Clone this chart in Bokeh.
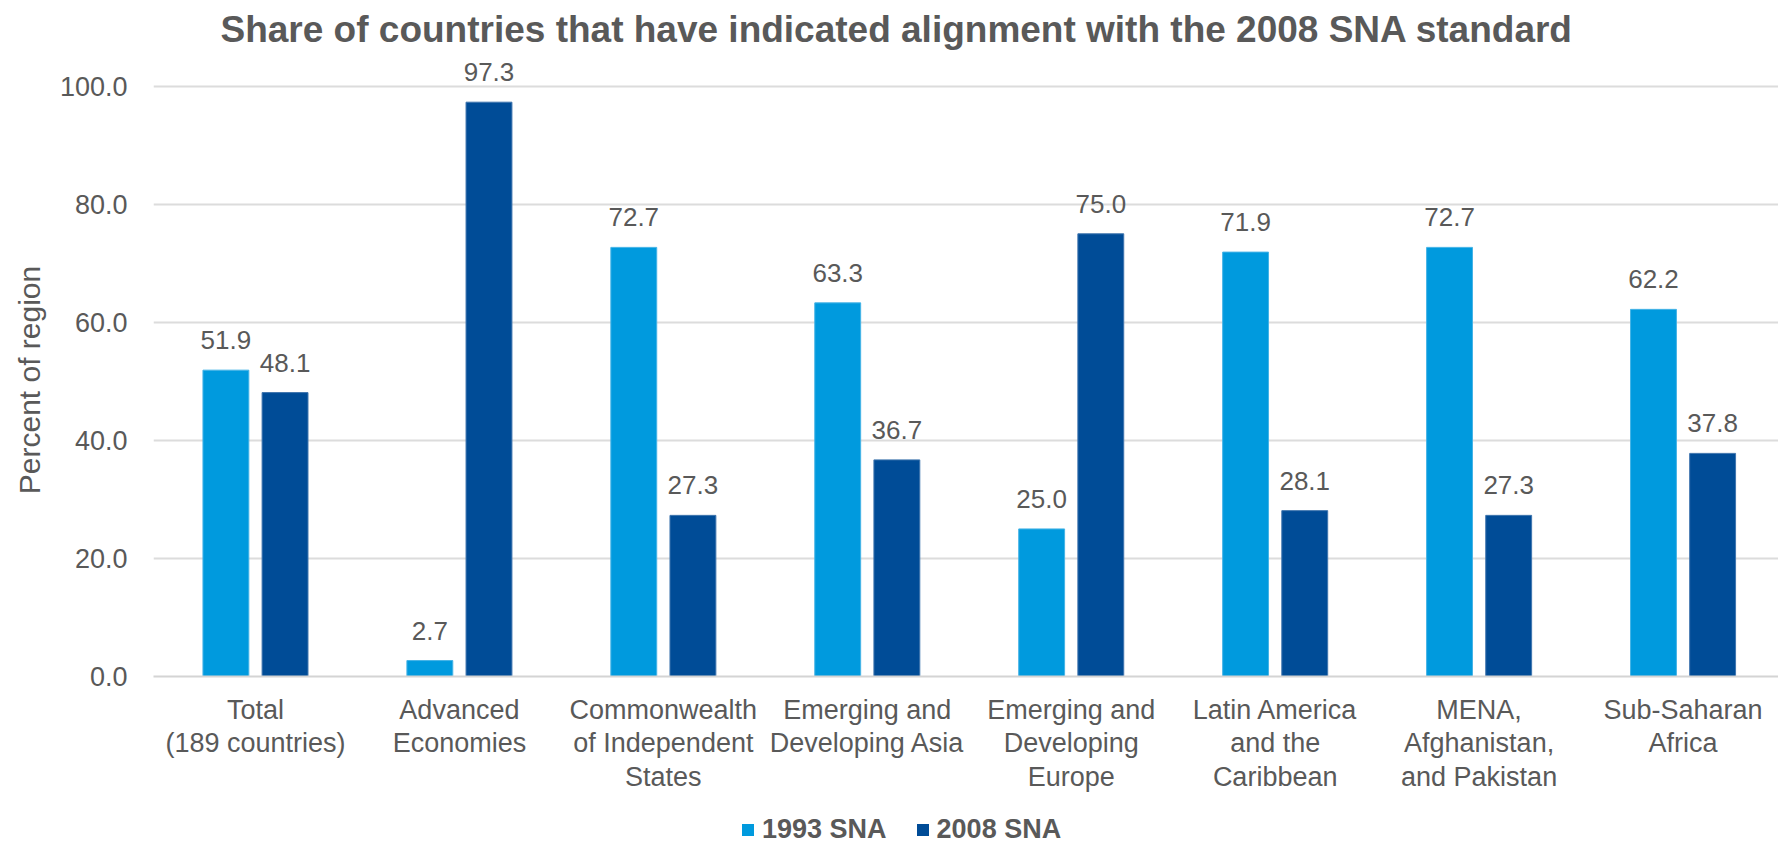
from bokeh.plotting import figure
from bokeh.layouts import column
from bokeh.models import (Range1d, FixedTicker, PrintfTickFormatter, Legend,
                          LegendItem, ColumnDataSource)
from bokeh.embed import file_html
from bokeh.resources import INLINE

# ---- data ----
categories = [
    "Total\n(189 countries)",
    "Advanced\nEconomies",
    "Commonwealth\nof Independent\nStates",
    "Emerging and\nDeveloping Asia",
    "Emerging and\nDeveloping\nEurope",
    "Latin America\nand the\nCaribbean",
    "MENA,\nAfghanistan,\nand Pakistan",
    "Sub-Saharan\nAfrica",
]
sna_1993 = [51.9, 2.7, 72.7, 63.3, 25.0, 71.9, 72.7, 62.2]
sna_2008 = [48.1, 97.3, 27.3, 36.7, 75.0, 28.1, 27.3, 37.8]
y_ticks = [0, 20, 40, 60, 80, 100]
series_names = ["1993 SNA", "2008 SNA"]

TITLE = "Share of countries that have indicated alignment with the 2008 SNA standard"
FONT = "Liberation Sans"
GRAY = "#595959"
LIGHT = "#009ADE"
DARK = "#004C97"
LIGHT_EDGE = "#45B3E6"
DARK_EDGE = "#3F75AE"

centers = [i + 0.5 for i in range(len(categories))]
off = 0.145
bw = 0.225

src1 = ColumnDataSource(dict(x=[c - off for c in centers], top=sna_1993,
                             lab=["%.1f" % v for v in sna_1993]))
src2 = ColumnDataSource(dict(x=[c + off for c in centers], top=sna_2008,
                             lab=["%.1f" % v for v in sna_2008]))

MAIN_H = 795
p = figure(width=1778, height=MAIN_H, output_backend="svg", toolbar_location=None,
           x_range=Range1d(0, 7.968), y_range=Range1d(0, 104.7),
           min_border_left=153, min_border_right=0, min_border_top=58,
           min_border_bottom=MAIN_H - 676)
p.outline_line_color = None
p.background_fill_color = "white"
p.border_fill_color = "white"

p.title.text = TITLE
p.title.text_font = FONT
p.title.text_font_size = "37px"
p.title.text_font_style = "bold"
p.title.text_color = GRAY
p.title.align = "left"
p.title.offset = 67
p.title.vertical_align = "top"
p.title.standoff = 14

r1 = p.vbar(x="x", top="top", width=bw, source=src1, fill_color=LIGHT,
            line_color=LIGHT_EDGE, line_width=1)
r2 = p.vbar(x="x", top="top", width=bw, source=src2, fill_color=DARK,
            line_color=DARK_EDGE, line_width=1)

for s in (src1, src2):
    p.text(x="x", y="top", text="lab", source=s, text_align="center",
           text_baseline="alphabetic", y_offset=-30, text_font_size="26px",
           text_color=GRAY, text_font={"value": FONT})

# axes
p.xaxis.ticker = FixedTicker(ticks=centers)
p.xaxis.major_label_overrides = {c: lab for c, lab in zip(centers, categories)}
p.xaxis.major_tick_line_color = None
p.xaxis.minor_tick_line_color = None
p.xaxis.axis_line_color = "#D4D4D4"
p.xaxis.axis_line_width = 2
p.xaxis.major_label_text_font = FONT
p.xaxis.major_label_text_font_size = "27px"
p.xaxis.major_label_text_color = GRAY
p.xaxis.major_label_standoff = 12
p.xaxis.major_label_text_line_height = 1.12

p.yaxis.ticker = FixedTicker(ticks=y_ticks)
p.yaxis.formatter = PrintfTickFormatter(format="%.1f")
p.yaxis.axis_line_color = None
p.yaxis.major_tick_line_color = None
p.yaxis.minor_tick_line_color = None
p.yaxis.major_label_text_font = FONT
p.yaxis.major_label_text_font_size = "27px"
p.yaxis.major_label_text_color = GRAY
p.yaxis.major_label_standoff = 20
p.yaxis.axis_label = "Percent of region\u00a0\u00a0\u00a0"
p.yaxis.axis_label_text_font = FONT
p.yaxis.axis_label_text_font_size = "30px"
p.yaxis.axis_label_text_font_style = "normal"
p.yaxis.axis_label_text_color = GRAY
p.yaxis.axis_label_standoff = 11

p.xgrid.grid_line_color = None
p.ygrid.ticker = FixedTicker(ticks=y_ticks)
p.ygrid.grid_line_color = "#DCDCDC"
p.ygrid.grid_line_width = 2

# ---- legend strip below the chart ----
LEG_H = 845 - MAIN_H
lg = figure(width=1778, height=LEG_H, output_backend="svg", toolbar_location=None,
            x_range=Range1d(0, 1), y_range=Range1d(0, 1),
            min_border=0, min_border_left=0, min_border_right=0,
            min_border_top=0, min_border_bottom=0)
lg.outline_line_color = None
lg.axis.visible = False
lg.grid.grid_line_color = None
# key swatches only: zero-size marks far outside this strip's visible range
k1 = lg.vbar(x=[50], top=[-50], bottom=[-50], width=0, fill_color=LIGHT,
             line_alpha=0)
k2 = lg.vbar(x=[50], top=[-50], bottom=[-50], width=0, fill_color=DARK,
             line_alpha=0)
legend = Legend(items=[LegendItem(label=series_names[0], renderers=[k1]),
                       LegendItem(label=series_names[1], renderers=[k2])],
                orientation="horizontal", location=(587, 0),
                glyph_width=15, glyph_height=15, label_standoff=7, spacing=28,
                padding=0, margin=0, border_line_color=None,
                background_fill_alpha=0,
                label_text_font=FONT, label_text_font_size="27px",
                label_text_font_style="bold", label_text_color=GRAY,
                label_text_line_height=1.0)
lg.add_layout(legend, "center")

layout = column(p, lg, spacing=0)
open("out.html", "w").write(file_html(layout, INLINE))
